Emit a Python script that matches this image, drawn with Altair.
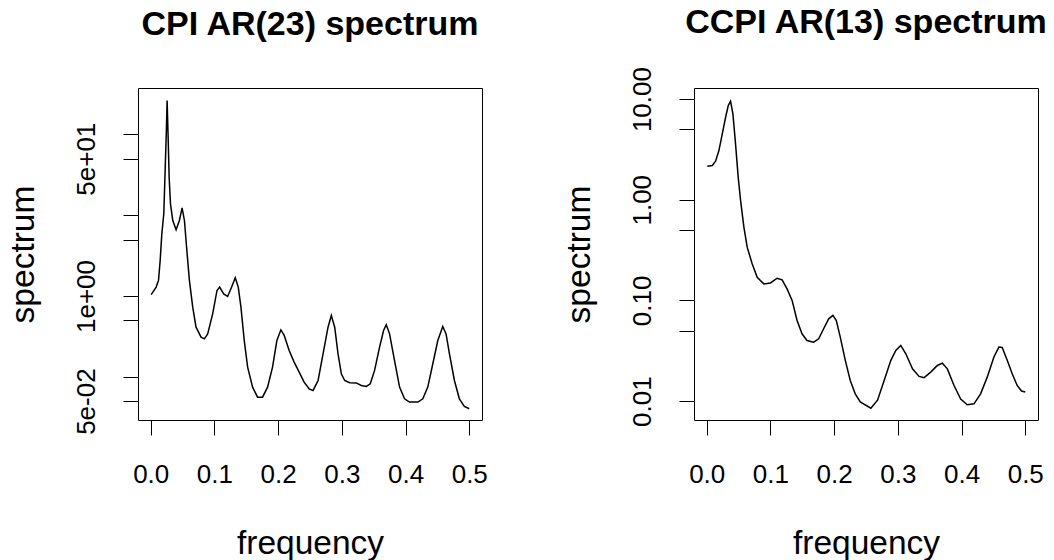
import altair as alt
import pandas as pd

# CPI AR(23) spectrum
cpi_freq = [0.0007, 0.0085, 0.0122, 0.0148, 0.0174, 0.0205, 0.0226, 0.0247, 0.0257, 0.0273,
            0.0289, 0.031, 0.0346, 0.0398, 0.045, 0.0492, 0.0529, 0.0571, 0.0607, 0.0659,
            0.0711, 0.079, 0.0842, 0.0894, 0.0972, 0.104, 0.1082, 0.1145, 0.1207, 0.127,
            0.1327, 0.1374, 0.1416, 0.1468, 0.1521, 0.1599, 0.1677, 0.1755, 0.1834, 0.1912,
            0.198, 0.2043, 0.2095, 0.2173, 0.2251, 0.233, 0.2408, 0.2486, 0.2548, 0.2627,
            0.2705, 0.2783, 0.2835, 0.2888, 0.294, 0.2992, 0.3044, 0.3123, 0.3227, 0.3305,
            0.3384, 0.3446, 0.3514, 0.3592, 0.3655, 0.3697, 0.3749, 0.3827, 0.3906, 0.3984,
            0.4062, 0.4193, 0.4271, 0.4349, 0.4428, 0.4506, 0.4584, 0.4636, 0.4689, 0.4767,
            0.4845, 0.4923, 0.5]
cpi_spec = [1.04, 1.29, 1.56, 2.75, 5.87, 10.4, 35.7, 123, 262, 92,
            29.5, 13.8, 8.6, 6.6, 8.6, 12.3, 8.6, 3.33, 1.56, 0.728,
            0.411, 0.31, 0.295, 0.34, 0.601, 1.17, 1.29, 1.06, 0.986, 1.29,
            1.68, 1.29, 0.728, 0.281, 0.132, 0.0745, 0.056, 0.056, 0.0745, 0.132,
            0.281, 0.381, 0.325, 0.212, 0.152, 0.114, 0.0859, 0.071, 0.0678, 0.090,
            0.192, 0.411, 0.574, 0.411, 0.192, 0.109, 0.090, 0.0843, 0.084, 0.078,
            0.0759, 0.0818, 0.12, 0.233, 0.374, 0.44, 0.34, 0.159, 0.0745, 0.0534,
            0.0486, 0.0486, 0.0534, 0.0745, 0.145, 0.281, 0.42, 0.34, 0.192, 0.090,
            0.0534, 0.043, 0.0402]

# CCPI AR(13) spectrum
ccpi_freq = [0.0009, 0.0087, 0.0139, 0.0191, 0.0244, 0.0296, 0.0338, 0.0374, 0.0411, 0.0452,
             0.0494, 0.0531, 0.0583, 0.0635, 0.0713, 0.0792, 0.0896, 0.1, 0.1105, 0.1183,
             0.1261, 0.134, 0.1418, 0.1496, 0.1574, 0.1679, 0.1757, 0.1835, 0.1914, 0.1981,
             0.2034, 0.2096, 0.2175, 0.2253, 0.2331, 0.241, 0.2576, 0.2681, 0.2785, 0.289,
             0.2968, 0.3046, 0.3125, 0.323, 0.3333, 0.3412, 0.3516, 0.3621, 0.3699, 0.3777,
             0.3882, 0.3986, 0.409, 0.4195, 0.4299, 0.4403, 0.4508, 0.4586, 0.4638, 0.4717,
             0.4795, 0.4873, 0.4941, 0.5]
ccpi_spec = [2.15, 2.19, 2.42, 3.08, 4.52, 6.6, 8.63, 9.5, 7.13, 3.59,
             1.67, 0.984, 0.535, 0.338, 0.231, 0.170, 0.146, 0.149, 0.166, 0.160,
             0.130, 0.100, 0.0632, 0.0466, 0.040, 0.0385, 0.0416, 0.0523, 0.0656, 0.071,
             0.0632, 0.0432, 0.0254, 0.016, 0.0118, 0.0098, 0.0085, 0.0102, 0.016, 0.0254,
             0.0318, 0.0357, 0.0295, 0.0209, 0.0176, 0.0171, 0.0194, 0.0226, 0.0238, 0.0209,
             0.0143, 0.0105, 0.0092, 0.0094, 0.0118, 0.0173, 0.0274, 0.0344, 0.0341, 0.0254,
             0.0187, 0.0143, 0.0126, 0.0123]

x_ticks = [0.0, 0.1, 0.2, 0.3, 0.4, 0.5]
cpi_yticks = [0.05, 0.1, 0.5, 1, 5, 10, 50, 100]
ccpi_yticks = [0.01, 0.05, 0.1, 0.5, 1, 5, 10]

FONT = "Liberation Sans"
W, H = 344, 332


def panel(freq, spec, title, ydomain, yticks, label_expr, title_offset):
    df = pd.DataFrame({"frequency": freq, "spectrum": spec})
    x = alt.X("frequency:Q",
              scale=alt.Scale(domain=[-0.02, 0.52], nice=False, zero=False),
              axis=alt.Axis(values=x_ticks, format=".1f", title="frequency",
                            domain=False, grid=False, tickColor="black", tickWidth=1,
                            tickSize=15, labelFontSize=26, labelFont=FONT,
                            labelColor="black", labelPadding=47.8,
                            labelBaseline="alphabetic", labelFlush=False,
                            labelOverlap=False,
                            titleFont=FONT, titleFontSize=33.5, titleFontWeight="normal",
                            titleColor="black", titleBaseline="alphabetic",
                            titleY=133, titleX=W / 2, titleAlign="center"))
    y = alt.Y("spectrum:Q",
              scale=alt.Scale(type="log", domain=ydomain, nice=False, zero=False),
              axis=alt.Axis(values=yticks, labelExpr=label_expr, title="spectrum",
                            domain=False, grid=False, tickColor="black", tickWidth=1,
                            tickSize=15, labelFontSize=26, labelFont=FONT,
                            labelColor="black", labelAngle=270, labelAlign="center",
                            labelBaseline="alphabetic", labelPadding=28.5,
                            labelOverlap=False, labelFlush=False,
                            titleFont=FONT, titleFontSize=33.5, titleFontWeight="normal",
                            titleColor="black", titleAngle=270, titleAlign="center",
                            titleBaseline="alphabetic", titleX=-105, titleY=H / 2))
    return alt.Chart(df).mark_line(color="black", strokeWidth=1.5, clip=True).encode(
        x=x, y=y
    ).properties(
        width=W, height=H,
        title=alt.TitleParams(title, font=FONT, fontSize=34, fontWeight="bold",
                              color="black", baseline="alphabetic", offset=title_offset,
                              anchor="middle", frame="group")
    )


left = panel(cpi_freq, cpi_spec, "CPI AR(23) spectrum", [0.0292, 375], cpi_yticks,
             "datum.value > 0.04 && datum.value < 0.06 ? '5e-02' : "
             "datum.value > 0.9 && datum.value < 1.1 ? '1e+00' : "
             "datum.value > 40 && datum.value < 60 ? '5e+01' : ''", 19)
right = panel(ccpi_freq, ccpi_spec, "CCPI AR(13) spectrum", [0.00649, 12.88], ccpi_yticks,
              "datum.value > 0.009 && datum.value < 0.011 ? '0.01' : "
              "datum.value > 0.09 && datum.value < 0.11 ? '0.10' : "
              "datum.value > 0.9 && datum.value < 1.1 ? '1.00' : "
              "datum.value > 9 && datum.value < 11 ? '10.00' : ''", 0)

chart = alt.hconcat(left, right, spacing=212, bounds="flush").properties(
    padding={"left": 5, "top": 5, "right": 0, "bottom": 0},
    background="white",
).configure_view(stroke="black", strokeWidth=1)

chart.save("out.html", embed_options={"renderer": "svg", "actions": False})
